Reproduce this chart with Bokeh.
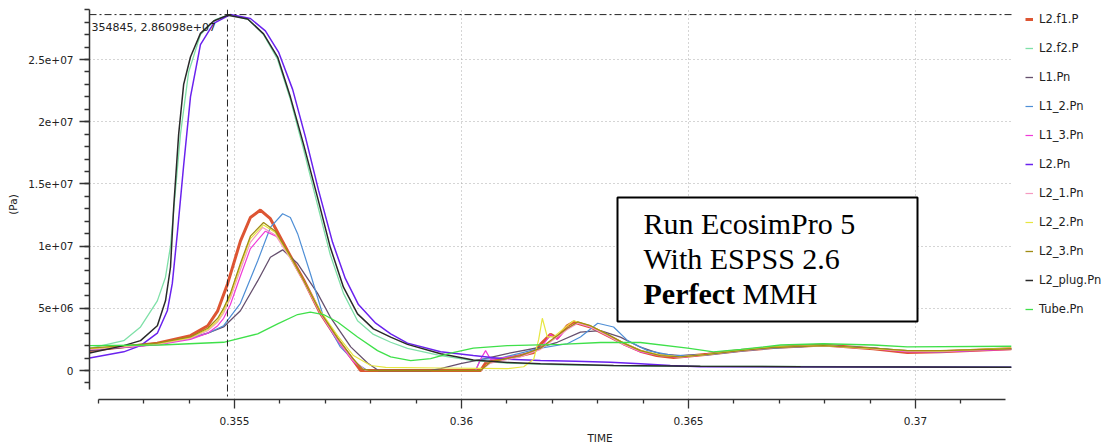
from bokeh.plotting import figure
from bokeh.models import (Range1d, FixedTicker, CustomJSTickFormatter, Legend,
                          LegendItem, Span, Label, BoxAnnotation)
from bokeh.embed import file_html
from bokeh.resources import INLINE

# ---------------- data (time in s, pressure in Pa) ----------------
t_L2_f1_P = [0.35181, 0.35256, 0.35330, 0.35403, 0.35441, 0.35463, 0.35485, 0.35513, 0.35535, 0.35557,
             0.35579, 0.35617, 0.35652, 0.35689, 0.35727, 0.35762, 0.35778, 0.36042, 0.36053, 0.36086,
             0.36130, 0.36159, 0.36174, 0.36196, 0.36211, 0.36233, 0.36247, 0.36284, 0.36322, 0.36357,
             0.36394, 0.36430, 0.36467, 0.36542, 0.36615, 0.36687, 0.36797, 0.36907, 0.36982, 0.37055, 0.37211]
p_L2_f1_P = [1.6e6, 1.9e6, 2.2e6, 2.8e6, 3.6e6, 4.8e6, 7.0e6, 10.4e6, 12.3e6, 12.9e6,
             12.2e6, 9.6e6, 7.3e6, 4.6e6, 2.5e6, 0.8e6, 0.0, 0.0, 0.6e6, 0.9e6,
             1.2e6, 1.45e6, 2.1e6, 2.9e6, 2.6e6, 3.6e6, 3.9e6, 3.5e6, 2.8e6, 2.15e6,
             1.55e6, 1.2e6, 1.05e6, 1.3e6, 1.6e6, 1.85e6, 2.05e6, 1.75e6, 1.45e6, 1.5e6, 1.75e6]

t_L2_f2_P = [0.35181, 0.35256, 0.35293, 0.35330, 0.35348, 0.35359, 0.35370, 0.35381, 0.35399, 0.35425,
             0.35458, 0.35489, 0.35531, 0.35564, 0.35595, 0.35623, 0.35652, 0.35683, 0.35711, 0.35740,
             0.35771, 0.35806, 0.35844, 0.35881, 0.35954, 0.36026, 0.36101, 0.36218, 0.36394, 0.37211]
p_L2_f2_P = [1.77e6, 2.4e6, 3.5e6, 5.6e6, 7.5e6, 10.0e6, 14.5e6, 19.0e6, 24.0e6, 27.0e6,
             28.2e6, 28.6e6, 28.2e6, 27.0e6, 25.0e6, 21.8e6, 17.8e6, 13.3e6, 9.3e6, 6.2e6,
             4.0e6, 2.9e6, 2.27e6, 1.77e6, 1.2e6, 0.8e6, 0.6e6, 0.45e6, 0.35e6, 0.27e6]

t_L1_Pn = [0.35181, 0.35330, 0.35403, 0.35441, 0.35476, 0.35513, 0.35551, 0.35579, 0.35606, 0.35639,
           0.35683, 0.35711, 0.35756, 0.35793, 0.35817, 0.35932, 0.35954, 0.35998, 0.36042, 0.36101,
           0.36174, 0.36211, 0.36262, 0.36306, 0.36350, 0.36394, 0.36438, 0.36482, 0.36542, 0.36615,
           0.36687, 0.36797, 0.36907, 0.36982, 0.37055, 0.37211]
p_L1_Pn = [1.6e6, 2.1e6, 2.6e6, 3.0e6, 3.5e6, 4.8e6, 7.2e6, 9.1e6, 9.7e6, 8.6e6,
           6.2e6, 4.3e6, 1.9e6, 0.6e6, 0.0, 0.0, 0.15e6, 0.55e6, 0.87e6, 1.36e6,
           1.87e6, 2.27e6, 3.08e6, 3.2e6, 2.68e6, 1.87e6, 1.34e6, 1.2e6, 1.3e6, 1.6e6,
           1.85e6, 2.0e6, 1.8e6, 1.6e6, 1.55e6, 1.75e6]

t_L1_2_Pn = [0.35181, 0.35330, 0.35403, 0.35441, 0.35476, 0.35513, 0.35551, 0.35579, 0.35606, 0.35623,
             0.35639, 0.35667, 0.35696, 0.35733, 0.35771, 0.35793, 0.36031, 0.36042, 0.36086, 0.36130,
             0.36174, 0.36233, 0.36262, 0.36300, 0.36335, 0.36366, 0.36410, 0.36467, 0.36542, 0.36615,
             0.36687, 0.36797, 0.36907, 0.36982, 0.37055, 0.37211]
p_L1_2_Pn = [1.7e6, 2.1e6, 2.6e6, 3.0e6, 3.6e6, 5.4e6, 8.8e6, 11.5e6, 12.6e6, 12.3e6,
             11.0e6, 7.8e6, 4.3e6, 1.9e6, 0.5e6, 0.0, 0.0, 0.9e6, 1.0e6, 1.4e6,
             1.8e6, 2.15e6, 2.7e6, 3.8e6, 3.5e6, 2.4e6, 1.6e6, 1.2e6, 1.25e6, 1.55e6,
             1.8e6, 2.0e6, 1.8e6, 1.55e6, 1.5e6, 1.75e6]

t_L1_3_Pn = [0.35181, 0.35330, 0.35403, 0.35441, 0.35463, 0.35476, 0.35491, 0.35513, 0.35535, 0.35568,
             0.35597, 0.35628, 0.35661, 0.35694, 0.35729, 0.35762, 0.35789, 0.36031, 0.36042, 0.36053,
             0.36064, 0.36086, 0.36130, 0.36174, 0.36196, 0.36211, 0.36233, 0.36256, 0.36284, 0.36322,
             0.36357, 0.36394, 0.36438, 0.36482, 0.36542, 0.36615, 0.36687, 0.36797, 0.36907, 0.36982,
             0.37055, 0.37211]
p_L1_3_Pn = [1.7e6, 2.05e6, 2.5e6, 3.0e6, 3.6e6, 4.2e6, 5.3e6, 7.6e6, 9.8e6, 11.2e6,
             10.7e6, 8.8e6, 6.6e6, 4.3e6, 2.3e6, 0.7e6, 0.0, 0.0, 0.9e6, 1.6e6,
             0.9e6, 1.0e6, 1.2e6, 1.75e6, 2.9e6, 2.5e6, 3.4e6, 3.8e6, 3.5e6, 2.8e6,
             2.1e6, 1.5e6, 1.2e6, 1.05e6, 1.3e6, 1.6e6, 1.85e6, 2.0e6, 1.75e6, 1.5e6,
             1.5e6, 1.7e6]

t_L2_Pn = [0.35181, 0.35256, 0.35293, 0.35330, 0.35352, 0.35363, 0.35374, 0.35388, 0.35403, 0.35425,
           0.35454, 0.35491, 0.35535, 0.35568, 0.35597, 0.35628, 0.35656, 0.35685, 0.35716, 0.35744,
           0.35773, 0.35811, 0.35844, 0.35881, 0.35954, 0.36026, 0.36101, 0.36174, 0.36251, 0.36328,
           0.36394, 0.36460, 0.36526, 0.37211]
p_L2_Pn = [1.0e6, 1.5e6, 2.0e6, 3.0e6, 4.8e6, 7.0e6, 11.0e6, 16.5e6, 22.0e6, 26.2e6,
           27.9e6, 28.61e6, 28.3e6, 27.3e6, 25.6e6, 22.6e6, 18.8e6, 14.5e6, 10.3e6, 7.4e6,
           5.3e6, 3.8e6, 2.95e6, 2.2e6, 1.5e6, 1.2e6, 0.9e6, 0.8e6, 0.75e6, 0.67e6,
           0.55e6, 0.4e6, 0.3e6, 0.27e6]

t_L2_1_Pn = [0.35181, 0.35330, 0.35403, 0.35441, 0.35463, 0.35476, 0.35491, 0.35513, 0.35535, 0.35562,
             0.35590, 0.35623, 0.35656, 0.35689, 0.35727, 0.35762, 0.35789, 0.36042, 0.36064, 0.36130,
             0.36174, 0.36203, 0.36233, 0.36256, 0.36284, 0.36322, 0.36357, 0.36394, 0.36438, 0.36482,
             0.36542, 0.36615, 0.36687, 0.36797, 0.36907, 0.36982, 0.37055, 0.37211]
p_L2_1_Pn = [1.7e6, 2.1e6, 2.6e6, 3.2e6, 3.9e6, 4.6e6, 5.8e6, 8.1e6, 10.3e6, 11.5e6,
             10.9e6, 9.0e6, 6.9e6, 4.6e6, 2.5e6, 0.8e6, 0.0, 0.0, 0.6e6, 1.1e6,
             1.7e6, 2.5e6, 3.3e6, 3.8e6, 3.5e6, 2.8e6, 2.1e6, 1.55e6, 1.2e6, 1.1e6,
             1.3e6, 1.6e6, 1.85e6, 2.0e6, 1.75e6, 1.55e6, 1.55e6, 1.75e6]

t_L2_2_Pn = [0.35181, 0.35330, 0.35403, 0.35441, 0.35463, 0.35476, 0.35491, 0.35513, 0.35535, 0.35564,
             0.35590, 0.35623, 0.35656, 0.35689, 0.35727, 0.35762, 0.35800, 0.35833, 0.35954, 0.36101,
             0.36137, 0.36159, 0.36170, 0.36178, 0.36189, 0.36203, 0.36233, 0.36247, 0.36284, 0.36322,
             0.36357, 0.36394, 0.36438, 0.36482, 0.36542, 0.36615, 0.36687, 0.36797, 0.36907, 0.36982,
             0.37055, 0.37211]
p_L2_2_Pn = [1.75e6, 2.15e6, 2.65e6, 3.3e6, 4.0e6, 4.8e6, 6.0e6, 8.4e6, 10.6e6, 11.7e6,
             11.1e6, 9.1e6, 7.0e6, 4.8e6, 2.8e6, 1.2e6, 0.4e6, 0.25e6, 0.2e6, 0.15e6,
             0.3e6, 0.9e6, 2.5e6, 4.2e6, 2.7e6, 2.7e6, 3.6e6, 4.0e6, 3.6e6, 2.9e6,
             2.2e6, 1.6e6, 1.25e6, 1.1e6, 1.3e6, 1.65e6, 1.9e6, 2.0e6, 1.75e6, 1.6e6,
             1.55e6, 1.8e6]

t_L2_3_Pn = [0.35181, 0.35330, 0.35403, 0.35441, 0.35463, 0.35476, 0.35491, 0.35513, 0.35535, 0.35564,
             0.35590, 0.35623, 0.35656, 0.35689, 0.35727, 0.35762, 0.35782, 0.35800, 0.36042, 0.36064,
             0.36130, 0.36174, 0.36203, 0.36233, 0.36256, 0.36284, 0.36322, 0.36357, 0.36394, 0.36438,
             0.36482, 0.36542, 0.36615, 0.36687, 0.36797, 0.36907, 0.36982, 0.37055, 0.37211]
p_L2_3_Pn = [1.8e6, 2.2e6, 2.7e6, 3.4e6, 4.2e6, 5.0e6, 6.2e6, 8.6e6, 10.8e6, 11.9e6,
             11.2e6, 9.2e6, 7.0e6, 4.7e6, 2.6e6, 0.9e6, 0.1e6, 0.0, 0.0, 0.7e6,
             1.2e6, 1.8e6, 2.6e6, 3.4e6, 3.9e6, 3.6e6, 2.9e6, 2.2e6, 1.6e6, 1.2e6,
             1.1e6, 1.3e6, 1.6e6, 1.85e6, 2.0e6, 1.8e6, 1.6e6, 1.6e6, 1.75e6]

t_L2_plug_Pn = [0.35181, 0.35256, 0.35293, 0.35330, 0.35348, 0.35359, 0.35366, 0.35377, 0.35388, 0.35403,
                0.35425, 0.35454, 0.35485, 0.35529, 0.35564, 0.35595, 0.35623, 0.35652, 0.35683, 0.35711,
                0.35740, 0.35771, 0.35806, 0.35844, 0.35881, 0.35954, 0.36026, 0.36101, 0.36174, 0.36335,
                0.36526, 0.36747, 0.37211]
p_L2_plug_Pn = [1.4e6, 2.0e6, 2.4e6, 3.6e6, 5.6e6, 8.3e6, 13.1e6, 19.0e6, 23.0e6, 25.2e6,
                27.1e6, 28.1e6, 28.56e6, 28.26e6, 27.06e6, 25.2e6, 22.0e6, 18.2e6, 13.9e6, 9.9e6,
                6.7e6, 4.55e6, 3.35e6, 2.68e6, 2.1e6, 1.35e6, 0.85e6, 0.65e6, 0.55e6, 0.4e6,
                0.35e6, 0.3e6, 0.27e6]

t_Tube_Pn = [0.35181, 0.35337, 0.35476, 0.35551, 0.35595, 0.35639, 0.35667, 0.35696, 0.35727, 0.35771,
             0.35815, 0.35844, 0.35888, 0.35932, 0.35976, 0.36026, 0.36101, 0.36218, 0.36306, 0.36394,
             0.36498, 0.36555, 0.36615, 0.36703, 0.36797, 0.36907, 0.36982, 0.37211]
p_Tube_Pn = [2.0e6, 2.05e6, 2.27e6, 2.95e6, 3.75e6, 4.5e6, 4.7e6, 4.5e6, 3.9e6, 2.7e6,
             1.6e6, 1.1e6, 0.8e6, 0.95e6, 1.4e6, 1.8e6, 2.0e6, 2.1e6, 2.25e6, 2.25e6,
             1.8e6, 1.5e6, 1.7e6, 2.05e6, 2.15e6, 2.05e6, 1.9e6, 1.95e6]

series_names = ["L2.f1.P", "L2.f2.P", "L1.Pn", "L1_2.Pn", "L1_3.Pn", "L2.Pn",
                "L2_1.Pn", "L2_2.Pn", "L2_3.Pn", "L2_plug.Pn", "Tube.Pn"]
series_t = [t_L2_f1_P, t_L2_f2_P, t_L1_Pn, t_L1_2_Pn, t_L1_3_Pn, t_L2_Pn,
            t_L2_1_Pn, t_L2_2_Pn, t_L2_3_Pn, t_L2_plug_Pn, t_Tube_Pn]
series_p = [p_L2_f1_P, p_L2_f2_P, p_L1_Pn, p_L1_2_Pn, p_L1_3_Pn, p_L2_Pn,
            p_L2_1_Pn, p_L2_2_Pn, p_L2_3_Pn, p_L2_plug_Pn, p_Tube_Pn]

x_ticks = [0.355, 0.36, 0.365, 0.37]
x_tick_labels = ["0.355", "0.36", "0.365", "0.37"]
x_minor_ticks = [0.352, 0.353, 0.354, 0.356, 0.357, 0.358, 0.359, 0.361, 0.362, 0.363,
                 0.364, 0.366, 0.367, 0.368, 0.369, 0.371]
y_ticks = [0, 5e6, 1e7, 1.5e7, 2e7, 2.5e7]
y_tick_labels = ["0", "5e+06", "1e+07", "1.5e+07", "2e+07", "2.5e+07"]
y_minor_ticks = [v * 1e6 for v in range(-1, 30)]

cursor_t = 0.354845
cursor_p = 2.86098e7
cursor_text = "354845, 2.86098e+07"
box_lines = ["Run EcosimPro 5", "With ESPSS 2.6"]
box_bold = "Perfect"
box_rest = "MMH"

# ---------------- styles / layout ----------------
colors = ["#dd5533", "#7fe0a8", "#66506e", "#4f8fd6", "#f03ad8", "#6a22ee",
          "#f59ac0", "#e6e640", "#a08c14", "#2a2a2a", "#3fe04a"]
widths = [3.0, 1.3, 1.3, 1.2, 1.2, 1.5, 1.2, 1.2, 1.3, 1.5, 1.3]

PXU = 45400.0                 # pixels per second on the time axis
X0 = 0.351806                 # left edge of plot area
XE = 0.372115                 # end of the plotted time window (curves end here)
FW, FH = 1021, 390            # frame spans to the right edge (legend drawn inside)
X1 = X0 + FW / PXU
Y0, Y1 = -2.331e6, 2.902e7


def sx(px):   # page px -> data x (annotation placement only)
    return X0 + (px - 89) / PXU


def sy(py):   # page py -> data y (annotation placement only)
    return Y1 - (py - 9) * (Y1 - Y0) / FH


p = figure(width=1110, height=448, min_border_left=89, min_border_right=0,
           min_border_top=9, min_border_bottom=49,
           x_range=Range1d(X0, X1), y_range=Range1d(Y0, Y1),
           output_backend="svg", toolbar_location=None)
p.outline_line_color = None
p.background_fill_color = "white"
p.border_fill_color = "white"

fmt_code = """
for (let i = 0; i < vals.length; i++) {
  if (Math.abs(vals[i] - tick) <= 1e-9 * Math.max(1, Math.abs(vals[i]))) return labs[i];
}
return "";
"""

TXT = "#222222"
FONT = "DejaVu Sans"

xa = p.xaxis[0]
xa.ticker = FixedTicker(ticks=x_ticks, minor_ticks=x_minor_ticks)
xa.formatter = CustomJSTickFormatter(args=dict(vals=x_ticks, labs=x_tick_labels), code=fmt_code)
xa.bounds = (0.352, 0.37198)
xa.axis_label = "TIME"
xa.axis_label_text_font_style = "normal"
xa.axis_label_text_font = FONT
xa.axis_label_text_font_size = "10.5px"
xa.axis_label_text_color = TXT
xa.axis_label_standoff = 4
xa.major_label_text_font = FONT
xa.major_label_text_font_size = "10.5px"
xa.major_label_text_color = TXT
xa.major_label_standoff = 8
xa.major_tick_out = 9
xa.major_tick_in = 0
xa.minor_tick_out = 4
xa.minor_tick_in = 0
xa.axis_line_width = 1.5
xa.axis_line_color = "#333333"
xa.major_tick_line_color = "#333333"
xa.minor_tick_line_color = "#333333"
xa.major_tick_line_width = 1.3
xa.minor_tick_line_width = 1.3

ya = p.yaxis[0]
ya.ticker = FixedTicker(ticks=y_ticks, minor_ticks=y_minor_ticks)
ya.formatter = CustomJSTickFormatter(args=dict(vals=y_ticks, labs=y_tick_labels), code=fmt_code)
ya.bounds = (-1.5e6, 2.902e7)
ya.axis_label = "(Pa)"
ya.axis_label_text_font_style = "normal"
ya.axis_label_text_font = FONT
ya.axis_label_text_font_size = "10.5px"
ya.axis_label_text_color = TXT
ya.axis_label_standoff = 6
ya.major_label_text_font = FONT
ya.major_label_text_font_size = "10.5px"
ya.major_label_text_color = TXT
ya.major_label_standoff = 6
ya.major_tick_out = 10
ya.major_tick_in = 0
ya.minor_tick_out = 5
ya.minor_tick_in = 0
ya.axis_line_width = 1.5
ya.axis_line_color = "#333333"
ya.major_tick_line_color = "#333333"
ya.minor_tick_line_color = "#333333"
ya.major_tick_line_width = 1.3
ya.minor_tick_line_width = 1.3

for g in (p.xgrid[0], p.ygrid[0]):
    g.grid_line_color = "#aaaaaa"
    g.grid_line_dash = "1 3"
    g.grid_line_width = 1

# horizontal grid lines stop where the plotted window ends (legend area stays clear)
try:
    p.ygrid[0].cross_bounds = (X0, XE)
except Exception:
    p.ygrid[0].visible = False
    p.segment(x0=[X0] * len(y_ticks), x1=[XE] * len(y_ticks), y0=y_ticks, y1=y_ticks,
              line_color="#aaaaaa", line_dash="1 3", line_width=1)

renderers = []
for name, t, pv, c, w in zip(series_names, series_t, series_p, colors, widths):
    assert len(t) == len(pv), name
    r = p.line(t, pv, line_color=c, line_width=w)
    renderers.append(r)

# crosshair (cursor readout)
p.segment(x0=[X0], x1=[XE], y0=[cursor_p], y1=[cursor_p], line_color="#222222",
          line_dash="7 3 2 3", line_width=1)
p.add_layout(Span(location=cursor_t, dimension="height", line_color="#222222",
                  line_dash="7 3 2 3", line_width=1))
p.add_layout(Label(x=sx(91), y=sy(27), text=cursor_text, text_font=FONT,
                   text_font_size="11px", text_color=TXT, text_baseline="middle"))

# text box
p.add_layout(BoxAnnotation(left=sx(617), right=sx(917), top=sy(197), bottom=sy(321),
                           fill_color="white", fill_alpha=1.0, line_color="black",
                           line_width=2, line_alpha=1.0))
SERIF = "Liberation Serif"
baselines = [223, 258, 293]
for line, b in zip(box_lines, baselines[:2]):
    p.add_layout(Label(x=sx(643), y=sy(b), text=line, text_font=SERIF,
                       text_font_size="30px", text_color="black",
                       text_baseline="alphabetic"))
p.add_layout(Label(x=sx(643), y=sy(baselines[2]), text=box_bold, text_font=SERIF,
                   text_font_size="30px", text_font_style="bold", text_color="black",
                   text_baseline="alphabetic"))
p.add_layout(Label(x=sx(742), y=sy(baselines[2]), text=box_rest, text_font=SERIF,
                   text_font_size="30px", text_color="black",
                   text_baseline="alphabetic"))

legend = Legend(items=[LegendItem(label=n, renderers=[r]) for n, r in zip(series_names, renderers)],
                location=(936, 82), orientation="vertical",
                glyph_width=8, glyph_height=16, label_height=16, spacing=13,
                padding=0, margin=0, label_standoff=6,
                border_line_color=None, background_fill_alpha=0.0,
                label_text_font=FONT, label_text_font_size="11.5px",
                label_text_color=TXT)
p.add_layout(legend)

open("out.html", "w").write(file_html(p, INLINE))
